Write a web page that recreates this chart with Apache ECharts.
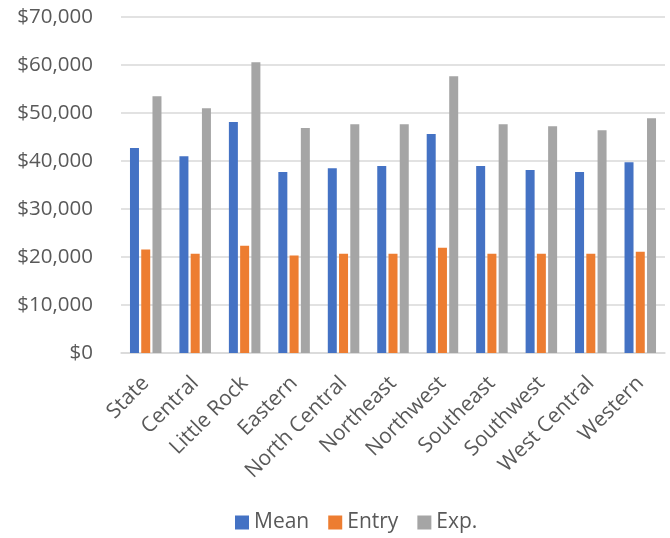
<!DOCTYPE html>
<html>
<head>
<meta charset="utf-8">
<script src="https://cdn.jsdelivr.net/npm/echarts@6/dist/echarts.min.js"></script>
<style>html,body{margin:0;padding:0;background:#fff}#c{width:670px;height:538px}</style>
</head>
<body>
<div id="c"></div>
<script>
const categories = ['State','Central','Little Rock','Eastern','North Central','Northeast','Northwest','Southeast','Southwest','West Central','Western'];
const meanValues  = [42700, 41000, 48150, 37700, 38500, 38950, 45600, 38950, 38100, 37700, 39750];
const entryValues = [21550, 20700, 22350, 20300, 20700, 20700, 21950, 20700, 20700, 20700, 21100];
const expValues   = [53500, 51000, 60550, 46850, 47650, 47650, 57650, 47650, 47250, 46400, 48900];
const seriesNames = ['Mean','Entry','Exp.'];
const yTicks = {min: 0, max: 70000, interval: 10000};

const font = 'Open Sans';
const chart = echarts.init(document.getElementById('c'));
const mk = (name, data, color) => ({
  name, type: 'bar', data, barWidth: 9, barGap: '25%',
  itemStyle: {color}, emphasis: {disabled: true}
});
chart.setOption({
  animation: false,
  textStyle: {fontFamily: font},
  grid: {left: 121, right: 5, top: 17, bottom: 185, containLabel: false},
  legend: {
    bottom: 0, left: 230, itemWidth: 14, itemHeight: 14, itemGap: 19,
    icon: 'rect',
    textStyle: {fontSize: 21, color: '#595959', fontFamily: font},
    data: seriesNames
  },
  xAxis: {
    type: 'category', data: categories,
    axisLine: {lineStyle: {color: '#d9d9d9', width: 1.5}},
    axisTick: {show: false},
    axisLabel: {rotate: 45, fontSize: 21, color: '#595959', margin: 27, interval: 0}
  },
  yAxis: {
    type: 'value', min: yTicks.min, max: yTicks.max, interval: yTicks.interval,
    axisLine: {show: false}, axisTick: {show: false},
    splitLine: {lineStyle: {color: '#d9d9d9', width: 1.5}},
    axisLabel: {fontSize: 20.5, color: '#595959', margin: 28,
      formatter: v => '$' + v.toLocaleString('en-US')}
  },
  series: [
    mk(seriesNames[0], meanValues, '#4472c4'),
    mk(seriesNames[1], entryValues, '#ed7d31'),
    mk(seriesNames[2], expValues, '#a5a5a5')
  ]
});
</script>
</body>
</html>
